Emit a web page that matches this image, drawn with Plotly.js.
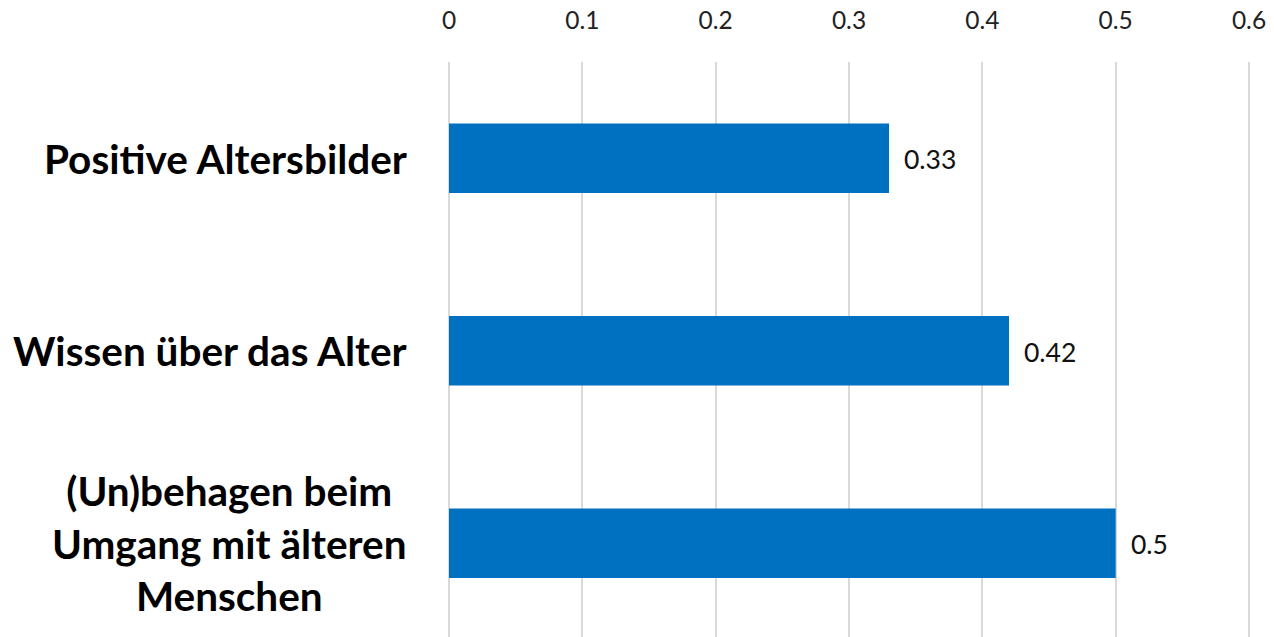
<!DOCTYPE html>
<html><head><meta charset="utf-8">
<script src="https://cdn.plot.ly/plotly-3.0.1.min.js"></script>
<style>html,body{margin:0;padding:0;background:#fff}#c{width:1274px;height:637px}</style>
</head><body><div id="c"></div>
<script>
const categories = ["Positive Altersbilder", "Wissen über das Alter", "(Un)behagen beim<br>Umgang mit älteren<br>Menschen"];
const values = [0.33, 0.42, 0.5];
const valueLabels = ["0.33", "0.42", "0.5"];
const tickVals = [0, 0.1, 0.2, 0.3, 0.4, 0.5, 0.6];
const tickText = ["0", "0.1", "0.2", "0.3", "0.4", "0.5", "0.6"];

const FONT = "Lato, 'Source Sans Pro', sans-serif";

const trace = {
  type: "bar", orientation: "h",
  x: values, y: categories,
  marker: {color: "#0070C0", line: {width: 0}},
  width: 0.36, hoverinfo: "none"
};

const annotations = [];
categories.forEach((c, i) => {
  annotations.push({xref: "paper", yref: "y", x: 0, y: c, xanchor: "right", yanchor: "middle",
    xshift: -38, text: "<b>" + c + "</b>", showarrow: false, align: "center",
    font: {family: FONT, size: 40.5, color: "#000"}});
  annotations.push({xref: "x", yref: "y", x: values[i], y: c, xanchor: "left", yanchor: "middle",
    xshift: 13, yshift: -1, text: valueLabels[i], showarrow: false,
    font: {family: FONT, size: 26.5, color: "#111", weight: 400}});
});

const layout = {
  width: 1274, height: 637,
  margin: {l: 447, r: 23, t: 62, b: 0, pad: 0},
  paper_bgcolor: "#fff", plot_bgcolor: "#fff",
  showlegend: false,
  xaxis: {side: "top", range: [-0.0015, 0.6015], tickvals: tickVals, ticktext: tickText,
    showgrid: true, gridcolor: "#d9d9d9", gridwidth: 2, zeroline: false, showline: false,
    ticks: "outside", ticklen: 22, tickcolor: "rgba(0,0,0,0)",
    tickfont: {family: FONT, size: 24.5, color: "#222", weight: 400}, fixedrange: true},
  yaxis: {type: "category", range: [2.487, -0.5], showticklabels: false, showgrid: false,
    zeroline: false, showline: false, ticks: "", fixedrange: true},
  annotations: annotations
};

Plotly.newPlot("c", [trace], layout, {staticPlot: true, displayModeBar: false});
</script></body></html>
